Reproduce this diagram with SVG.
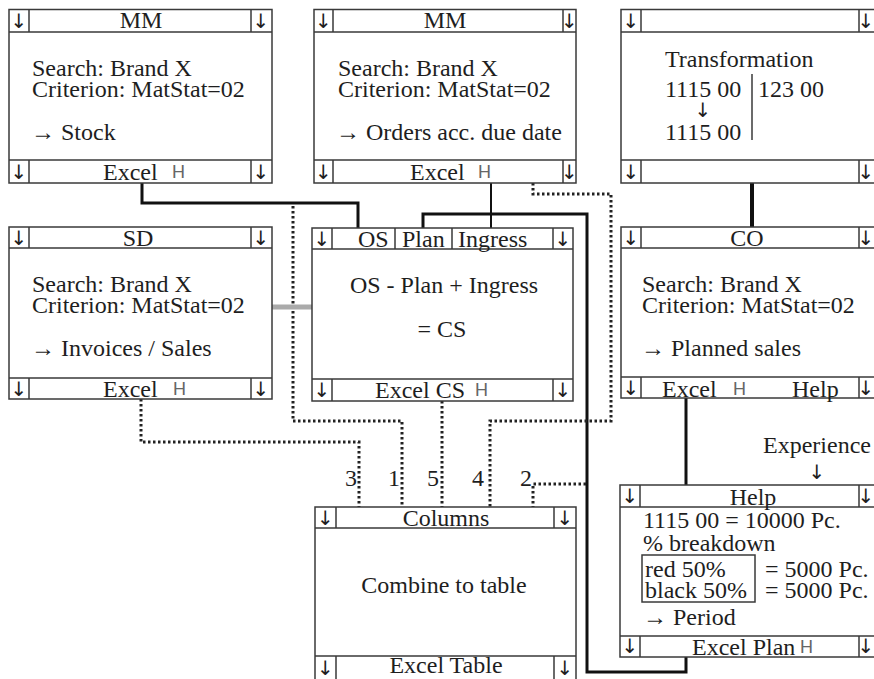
<svg xmlns="http://www.w3.org/2000/svg" width="874" height="679" viewBox="0 0 874 679">
<style>
.bx{fill:#fff;stroke:#3a3a3a;stroke-width:1.5}
.ln{fill:none;stroke:#3a3a3a;stroke-width:1.5}
.t{font-family:"Liberation Serif","Times New Roman",serif;font-size:24px;fill:#1e1e1e}
.m{text-anchor:middle}
.h{font-family:"Liberation Sans",Arial,sans-serif;font-size:18px;fill:#666}
.ar{font-family:"DejaVu Sans",sans-serif;font-size:20px;fill:#1e1e1e;text-anchor:middle}
.solid{fill:none;stroke:#111;stroke-width:3}
.dot{fill:none;stroke:#222;stroke-width:3;stroke-dasharray:2.5 2.5}
</style>
<rect width="874" height="679" fill="#fff"/>
<g id="connectors">
<path class="solid" d="M142 183V203H358V228"/>
<path class="solid" style="stroke-width:4" d="M752 183V227"/>
<path class="solid" style="stroke-width:2" d="M491 183V228"/>
<path class="solid" d="M423 228V214H587V672H686V657"/>
<path class="solid" d="M686 398V485"/>
<path class="dot" d="M293 206V421H402V507"/>
<path class="dot" d="M141 399V442H359V507"/>
<path class="dot" d="M442 401V507"/>
<path class="dot" d="M533 183V194H611V421H490V507"/>
<path class="dot" d="M586 484H533V507"/>
<path d="M265 307H318" fill="none" stroke="#aaa" stroke-width="5"/>
<text class="t" x="345" y="486">3</text>
<text class="t" x="388" y="486">1</text>
<text class="t" x="427" y="486">5</text>
<text class="t" x="472" y="486">4</text>
<text class="t" x="520" y="486">2</text>
</g>
<g id="mm-stock">
<rect class="bx" x="9" y="9.5" width="263" height="173.5"/>
<path class="ln" d="M9 32H272M9 160H272M29 9.5V32M251 9.5V32M29 160V183M251 160V183"/>
<text class="ar" x="19" y="28">↓</text><text class="ar" x="261" y="28">↓</text>
<text class="ar" x="19" y="179">↓</text><text class="ar" x="261" y="179">↓</text>
<text class="t m" x="141" y="28">MM</text>
<text class="t" x="32" y="76">Search: Brand X<tspan x="32" dy="21">Criterion: MatStat=02</tspan></text>
<text class="t" x="31" y="140">→ Stock</text>
<text class="t" x="103" y="180">Excel</text><text class="h" x="172" y="178">H</text>
</g>
<g id="mm-orders">
<rect class="bx" x="314" y="9.5" width="262" height="173.5"/>
<path class="ln" d="M314 32H576M314 160H576M333 9.5V32M563 9.5V32M333 160V183M563 160V183"/>
<text class="ar" x="323.5" y="28">↓</text><text class="ar" x="569.5" y="28">↓</text>
<text class="ar" x="323.5" y="179">↓</text><text class="ar" x="569.5" y="179">↓</text>
<text class="t m" x="445" y="28">MM</text>
<text class="t" x="338" y="76">Search: Brand X<tspan x="338" dy="21">Criterion: MatStat=02</tspan></text>
<text class="t" x="336" y="140">→ Orders acc. due date</text>
<text class="t" x="410" y="180">Excel</text><text class="h" x="478" y="178">H</text>
</g>
<g id="transformation">
<rect class="bx" x="621" y="9.5" width="258" height="173.5"/>
<path class="ln" d="M621 32H879M621 160H879M641 9.5V32M859 9.5V32M641 160V183M859 160V183"/>
<text class="ar" x="631" y="28">↓</text><text class="ar" x="866" y="28">↓</text>
<text class="ar" x="631" y="179">↓</text><text class="ar" x="866" y="179">↓</text>
<text class="t" x="665" y="67">Transformation</text>
<text class="t" x="665" y="97">1115 00</text>
<text class="t" x="758" y="97">123 00</text>
<text class="ar" x="703" y="117">↓</text>
<text class="t" x="665" y="140">1115 00</text>
<path class="ln" d="M752 74V140"/>
</g>
<g id="sd">
<rect class="bx" x="9" y="227" width="263" height="172"/>
<path class="ln" d="M9 248H272M9 378H272M29 227V248M251 227V248M29 378V399M251 378V399"/>
<text class="ar" x="19" y="245">↓</text><text class="ar" x="261" y="245">↓</text>
<text class="ar" x="19" y="396">↓</text><text class="ar" x="261" y="396">↓</text>
<text class="t m" x="138" y="246">SD</text>
<text class="t" x="32" y="292">Search: Brand X<tspan x="32" dy="21">Criterion: MatStat=02</tspan></text>
<text class="t" x="31" y="356">→ Invoices / Sales</text>
<text class="t" x="103" y="397">Excel</text><text class="h" x="173" y="395">H</text>
</g>
<g id="cs">
<rect class="bx" x="312" y="228" width="261" height="173"/>
<path class="ln" d="M312 249H573M312 379H573M332 228V249M553 228V249M395 228V249M452 228V249M332 379V401M553 379V401"/>
<text class="ar" x="322" y="246">↓</text><text class="ar" x="563" y="246">↓</text>
<text class="ar" x="322" y="397">↓</text><text class="ar" x="563" y="397">↓</text>
<text class="t" x="358" y="247">OS</text>
<text class="t" x="402" y="247">Plan</text>
<text class="t" x="458" y="247">Ingress</text>
<text class="t m" x="444" y="293">OS - Plan + Ingress</text>
<text class="t m" x="442" y="337">= CS</text>
<text class="t" x="375" y="398">Excel CS</text><text class="h" x="475" y="396">H</text>
</g>
<g id="co">
<rect class="bx" x="621" y="227" width="258" height="171"/>
<path class="ln" d="M621 248H879M621 377H879M641 227V248M859 227V248M641 377V398M859 377V398"/>
<text class="ar" x="631" y="245">↓</text><text class="ar" x="866" y="245">↓</text>
<text class="ar" x="631" y="395">↓</text><text class="ar" x="866" y="395">↓</text>
<text class="t m" x="747" y="246">CO</text>
<text class="t" x="642" y="292">Search: Brand X<tspan x="642" dy="21">Criterion: MatStat=02</tspan></text>
<text class="t" x="641" y="356">→ Planned sales</text>
<text class="t" x="662" y="397">Excel</text><text class="h" x="733" y="395">H</text>
<text class="t" x="792" y="397">Help</text>
</g>
<g id="experience">
<text class="t" x="763" y="453">Experience</text>
<text class="ar" x="817" y="479">↓</text>
</g>
<g id="help">
<rect class="bx" x="620" y="485" width="259" height="172"/>
<path class="ln" d="M620 507H879M620 636H879M640 485V507M859 485V507M640 636V657M859 636V657"/>
<text class="ar" x="630" y="503">↓</text><text class="ar" x="866" y="503">↓</text>
<text class="ar" x="630" y="653">↓</text><text class="ar" x="866" y="653">↓</text>
<text class="t m" x="753" y="505">Help</text>
<text class="t" x="643" y="528">1115 00 = 10000 Pc.<tspan x="643" dy="23">% breakdown</tspan></text>
<rect class="ln" x="642" y="555" width="113" height="47"/>
<text class="t" x="645" y="577">red 50%<tspan x="645" dy="21">black 50%</tspan></text>
<text class="t" x="765" y="577">= 5000 Pc.<tspan x="765" dy="21">= 5000 Pc.</tspan></text>
<text class="t" x="643" y="625">→ Period</text>
<text class="t" x="692" y="655">Excel Plan</text><text class="h" x="800" y="653">H</text>
</g>
<g id="columns">
<rect class="bx" x="315" y="507" width="261" height="185"/>
<path class="ln" d="M315 528H576M315 656H576M336 507V528M554 507V528M336 656V679M554 656V679"/>
<text class="ar" x="325.5" y="525">↓</text><text class="ar" x="565" y="525">↓</text>
<text class="ar" x="325.5" y="675">↓</text><text class="ar" x="565" y="675">↓</text>
<text class="t m" x="446" y="526">Columns</text>
<text class="t m" x="444" y="593">Combine to table</text>
<text class="t m" x="446" y="673">Excel Table</text>
</g>
</svg>
